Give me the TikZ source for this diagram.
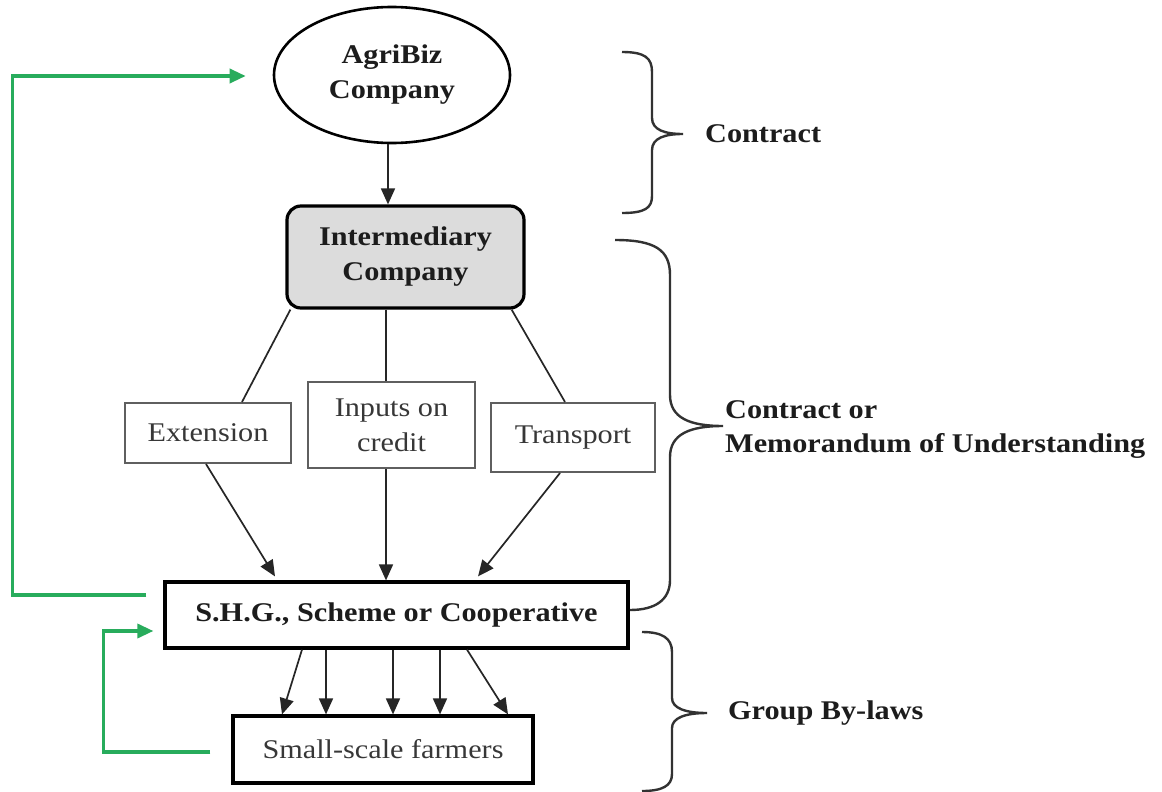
\documentclass[tikz,border=0pt]{standalone}
\usepackage{fontspec}
\setmainfont{Liberation Serif}[FakeStretch=1.12]
\usetikzlibrary{shapes.geometric,arrows.meta,calc}
\definecolor{grn}{RGB}{40,172,92}
\definecolor{boxgray}{RGB}{220,220,220}
\definecolor{txt}{RGB}{28,28,28}
\definecolor{soft}{RGB}{55,55,55}
\definecolor{edge}{RGB}{95,95,95}
\definecolor{brc}{RGB}{50,50,50}
\begin{document}
\begin{tikzpicture}[x=1pt,y=-1pt,
  bigtext/.style={font=\fontsize{27}{35}\selectfont\bfseries, text=txt, align=center, inner sep=0pt},
  mainbox/.style={bigtext, draw=black, line width=3.2pt},
  smallbox/.style={draw=edge, line width=2pt, font=\fontsize{27}{35}\selectfont, text=soft, align=center, inner sep=0pt},
  conn/.style={draw=black!85, line width=1.7pt},
  arr/.style={conn, -{Triangle[length=16pt,width=14pt]}},
  garr/.style={draw=grn, line width=3.4pt, -{Triangle[length=16pt,width=14pt]}},
  bracestyle/.style={draw=brc, line width=2.4pt},
  sidelabel/.style={font=\fontsize{27}{34}\selectfont\bfseries, text=txt, align=left, inner sep=0pt, anchor=west}]
\fill[white] (0,0) rectangle (1162,792);
\useasboundingbox (0,0) rectangle (1162,792);

% nodes
\node[bigtext, draw=black, line width=2.6pt, ellipse, minimum width=236pt, minimum height=136pt] (agri) at (392,75) {AgriBiz\\Company};
\node[mainbox, fill=boxgray, rounded corners=14pt, minimum width=237pt, minimum height=102pt] (inter) at (405.5,257) {Intermediary\\Company};
\node[smallbox, minimum width=166pt, minimum height=60pt] (ext) at (208,433) {Extension};
\node[smallbox, minimum width=167pt, minimum height=86pt] (inp) at (391.5,425) {Inputs on\\credit};
\node[smallbox, minimum width=164pt, minimum height=69pt] (trn) at (573,437.5) {Transport};
\node[mainbox, minimum width=463pt, minimum height=66pt] (shg) at (396.5,615) {S.H.G., Scheme or Cooperative};
\node[mainbox, font=\fontsize{27}{35}\selectfont, text=soft, minimum width=300pt, minimum height=67pt] (farm) at (383,749.5) {Small-scale farmers};

% side labels
\node[sidelabel] (lcontract) at (705,134) {Contract};
\node[sidelabel] (lmou) at (725,430) {Contract or\\Memorandum of Understanding};
\node[sidelabel] (lbylaws) at (728,713) {Group By-laws};

% connectors
\draw[arr] ($(agri.south)+(-4,0)$) -- ($(inter.north)+(-17.5,0)$);
\draw[conn] ($(inter.south west)+(5,0)$) -- ($(ext.north)+(34,0)$);
\draw[conn] ($(inter.south)+(-19.5,0)$) -- ($(inp.north)+(-5.5,0)$);
\draw[conn] ($(inter.south east)+(-14,0)$) -- ($(trn.north)+(-8,0)$);

\draw[arr] ($(ext.south)+(-2,0)$) -- ($(shg.north)+(-121.5,-4)$);
\draw[arr] ($(inp.south)+(-5.5,0)$) -- ($(shg.north)+(-10.5,0)$);
\draw[arr] ($(trn.south)+(-13,0)$) -- ($(shg.north)+(81.5,-4)$);

\draw[arr] ($(shg.south)+(-94.5,0)$) -- ($(farm.north)+(-101,0)$);
\draw[arr] ($(shg.south)+(-70.5,0)$) -- ($(farm.north)+(-57,0)$);
\draw[arr] ($(shg.south)+(-3.5,0)$) -- ($(farm.north)+(10,0)$);
\draw[arr] ($(shg.south)+(43.5,0)$) -- ($(farm.north)+(57,0)$);
\draw[arr] ($(shg.south)+(70.5,0)$) -- ($(farm.north)+(125,0)$);

% green feedback
\draw[garr] ($(shg.west)+(-17,-20)$) -- ++(-134,0) |- ($(agri.west)+(-27,1)$);
\draw[garr] ($(farm.west)+(-21,2.5)$) -- ++(-107,0) |- ($(shg.west)+(-10,16)$);

% braces
\draw[bracestyle] (622,52) .. controls (645,52) and (652,58) .. (652,72) -- (652,118)
  .. controls (652,130) and (665,134) .. (683,134)
  .. controls (665,134) and (652,138) .. (652,150) -- (652,196)
  .. controls (652,208) and (645,213) .. (622,213);
\draw[bracestyle] (615,240) .. controls (655,240) and (670,250) .. (670,275) -- (670,395)
  .. controls (670,418) and (690,426) .. (723,426)
  .. controls (690,426) and (670,434) .. (670,457) -- (670,580)
  .. controls (670,600) and (655,610) .. (630,610);
\draw[bracestyle] (642,632) .. controls (662,632) and (672,638) .. (672,652) -- (672,698)
  .. controls (672,708) and (685,713) .. (707,713)
  .. controls (685,713) and (672,718) .. (672,728) -- (672,774)
  .. controls (672,786) and (662,791) .. (642,791);
\end{tikzpicture}
\end{document}
